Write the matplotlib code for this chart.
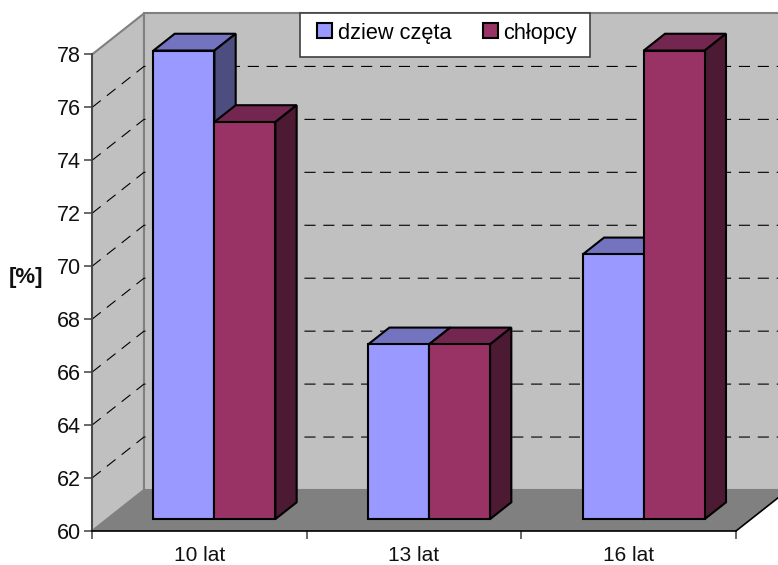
import matplotlib
matplotlib.use('Agg')
import matplotlib.pyplot as plt
import matplotlib.patches as mpatches
import numpy as np

plt.rcParams['font.family'] = ['Liberation Sans', 'DejaVu Sans']

categories = ['10 lat', '13 lat', '16 lat']
dziewczeta = [77.7, 66.6, 70.0]
chlopcy = [75.0, 66.6, 77.7]
y_ticks = np.arange(60, 80, 2)

# oblique depth of the box, one unit of depth = floor front to back wall
depth_x = 0.242
depth_y = 1.549
bar_width = 0.284
bar_front = 0.29
bar_back = 0.70


def proj(x, v, d):
    return (x + d * depth_x, v + d * depth_y)


def poly(ax, pts, face, edge='black', lw=1.5, z=2):
    ax.add_patch(mpatches.Polygon(pts, closed=True, facecolor=face, edgecolor=edge,
                                  linewidth=lw, joinstyle='miter', clip_on=False, zorder=z))


def bar3d(ax, x0, x1, v, front, top, side):
    # top and side first, the front face goes over their edges
    poly(ax, [proj(x0, v, bar_front), proj(x1, v, bar_front),
              proj(x1, v, bar_back), proj(x0, v, bar_back)], top, z=3)
    poly(ax, [proj(x1, 60, bar_front), proj(x1, v, bar_front),
              proj(x1, v, bar_back), proj(x1, 60, bar_back)], side, z=3)
    poly(ax, [proj(x0, 60, bar_front), proj(x1, 60, bar_front),
              proj(x1, v, bar_front), proj(x0, v, bar_front)], front, z=3)


fig = plt.figure(figsize=(7.78, 5.65), dpi=100)
ax = fig.add_axes([92 / 778, 34 / 565, 644 / 778, 476.5 / 565])
ax.set_xlim(0, 3)
ax.set_ylim(60, 78)
ax.patch.set_visible(False)

# walls and floor
n = len(categories)
poly(ax, [proj(0, 60, 1), proj(n, 60, 1), proj(n, 78, 1), proj(0, 78, 1)],
     '#c0c0c0', edge='#808080', lw=1.5, z=1)
poly(ax, [proj(0, 60, 0), proj(0, 60, 1), proj(0, 78, 1), proj(0, 78, 0)],
     '#c0c0c0', edge='#808080', lw=1.5, z=1)
poly(ax, [proj(0, 60, 0), proj(n, 60, 0), proj(n, 60, 1), proj(0, 60, 1)],
     '#808080', edge='none', lw=0, z=1)

# dashed grid, along the side wall and across the back wall
for v in y_ticks[1:-1]:
    x0, y0 = proj(0, v, 0)
    x1, y1 = proj(0, v, 1)
    x2, y2 = proj(n, v, 1)
    ax.plot([x0, x1, x2], [y0, y1, y2], color='black', lw=0.8,
            dashes=(10, 7), clip_on=False, zorder=1.5)

# front and right edge of the floor
xr, yr = proj(n, 60, 1)
ax.plot([n, xr], [60, yr], color='black', lw=1.2, clip_on=False, zorder=1.5)

for i in range(n):
    bar3d(ax, i + 0.5 - bar_width, i + 0.5, dziewczeta[i], '#9999ff', '#7373bf', '#4d4d80')
    bar3d(ax, i + 0.5, i + 0.5 + bar_width, chlopcy[i], '#993366', '#732650', '#4d1a33')

for s in ['top', 'right']:
    ax.spines[s].set_visible(False)
ax.spines['left'].set_color('#404040')
ax.spines['left'].set_linewidth(1.2)
ax.spines['bottom'].set_linewidth(1.2)

ax.set_yticks(y_ticks)
ax.set_xticks(np.arange(n + 1))
ax.set_xticklabels([])
ax.set_xticks(np.arange(n) + 0.5, minor=True)
ax.set_xticklabels(categories, minor=True)
ax.tick_params(axis='both', which='major', length=6, width=1.1, color='#404040', labelsize=15.5)
ax.tick_params(axis='y', pad=2, labelcolor='#111111')
ax.tick_params(axis='x', which='minor', length=0, labelsize=15, pad=11, labelcolor='#111111')

ax.set_ylabel('[%]', rotation=0, fontweight='bold', fontsize=16, color='#111111', va='center')
ax.yaxis.set_label_coords(-66 / 644, (531 - 277) / 476.5, transform=ax.transAxes)

# legend box is wider than the default padding allows, so it gets its own frame
frame = mpatches.Rectangle((300 / 778, 1 - 57 / 565), 290 / 778, 44 / 565, transform=fig.transFigure,
                           facecolor='white', edgecolor='#404040', linewidth=1.2, zorder=4)
fig.add_artist(frame)

patch1 = mpatches.Patch(facecolor='#9999ff', edgecolor='black', linewidth=1.5, label='dziew częta')
patch2 = mpatches.Patch(facecolor='#993366', edgecolor='black', linewidth=1.5, label='chłopcy')
leg = fig.legend(handles=[patch1, patch2], ncol=2, loc='center',
                 bbox_to_anchor=(447 / 778, 1 - 33 / 565), fontsize=15.7, frameon=False,
                 handlelength=0.68, handleheight=0.68,
                 handletextpad=0.25, columnspacing=1.45, borderpad=0, labelspacing=0)
leg.set_zorder(5)

fig.savefig('out.png', dpi=100)
